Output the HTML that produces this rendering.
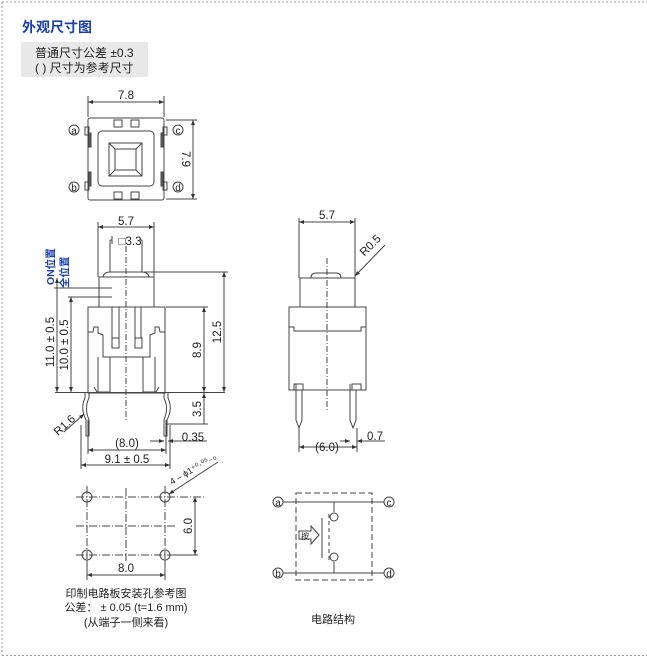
<!DOCTYPE html>
<html><head><meta charset="utf-8"><style>
html,body{margin:0;padding:0;background:#fff;}
body{width:647px;height:661px;overflow:hidden;}
svg{display:block;}
text{font-family:"Liberation Sans","Noto Sans CJK SC",sans-serif;fill:#222;}
</style></head><body>
<svg width="647" height="661" viewBox="0 0 647 661" xmlns="http://www.w3.org/2000/svg">
<defs>
<marker id="ar" viewBox="0 0 10 10" refX="10" refY="5" markerWidth="5" markerHeight="5" orient="auto-start-reverse"><path d="M0,1 L10,5 L0,9z" fill="#333"/></marker>
</defs>
<g stroke="#999" stroke-width="1" stroke-dasharray="2,2" fill="none">
<line x1="2" y1="2" x2="647" y2="2"/>
<line x1="2" y1="2" x2="2" y2="655"/>
<line x1="2" y1="655.5" x2="647" y2="655.5"/>
</g>
<text x="22" y="32" font-size="14" font-weight="bold" style="fill:#1a3fb0">外观尺寸图</text>
<rect x="21" y="42" width="127" height="35" fill="#e8e8e8"/>
<text x="35" y="57" font-size="12">普通尺寸公差 ±0.3</text>
<text x="35" y="72" font-size="12">( ) 尺寸为参考尺寸</text>

<g stroke="#444" stroke-width="1" fill="none">
<rect x="88" y="118" width="76" height="82" rx="2"/>
<rect x="98" y="131" width="56" height="55" rx="4"/>
<rect x="109" y="143" width="33" height="33"/>
<rect x="115" y="149" width="21" height="21"/>
<path d="M109,143 L115,149 M142,143 L136,149 M109,176 L115,170 M142,176 L136,170"/>
<rect x="114" y="120" width="8" height="7"/><rect x="131" y="120" width="8" height="7"/>
<rect x="114" y="192" width="8" height="7"/><rect x="131" y="192" width="8" height="7"/>
<rect x="85" y="127" width="4" height="8"/><rect x="89" y="133" width="2" height="14" fill="#666"/>
<rect x="85" y="182" width="4" height="8"/><rect x="89" y="172" width="2" height="14" fill="#666"/>
<rect x="163" y="127" width="4" height="8"/><rect x="161" y="133" width="2" height="14" fill="#666"/>
<rect x="163" y="182" width="4" height="8"/><rect x="161" y="172" width="2" height="14" fill="#666"/>
<circle cx="74" cy="130" r="5"/><circle cx="74" cy="187" r="5"/>
<circle cx="178" cy="130" r="5"/><circle cx="178" cy="187" r="5"/>
<line x1="88" y1="96" x2="88" y2="117"/><line x1="164" y1="96" x2="164" y2="117"/>
<line x1="88" y1="102" x2="164" y2="102" marker-start="url(#ar)" marker-end="url(#ar)"/>
<line x1="166" y1="120" x2="197" y2="120"/><line x1="166" y1="199" x2="197" y2="199"/>
<line x1="193" y1="120" x2="193" y2="199" marker-start="url(#ar)" marker-end="url(#ar)"/>

<line x1="98" y1="222" x2="98" y2="277"/><line x1="154" y1="222" x2="154" y2="277"/>
<line x1="98" y1="227" x2="154" y2="227" marker-start="url(#ar)" marker-end="url(#ar)"/>
<path d="M110,240 L110,272 M142,240 L142,272 M110,240 L112,240 M140,240 L142,240"/>
<line x1="112" y1="236" x2="112" y2="244"/>
<path d="M103,277 Q104,272 110,272 L142,272 Q148,272 149,277"/>
<rect x="99" y="277" width="55" height="30"/>
<rect x="88" y="307" width="77" height="86"/>
<path d="M88,332 L93,332 L94,327 L98,327 L98,333 L103,335 L103,357 L150,357 L150,335 L155,333 L155,327 L159,327 L160,332 L165,332"/>
<path d="M112,307 L112,338 M119,307 L119,338 M135,307 L135,338 M141,307 L141,338"/>
<rect x="112" y="338" width="7" height="10"/><rect x="135" y="338" width="7" height="10"/>
<path d="M98,357 L98,392 M110,357 L110,392 M143,357 L143,392 M155,357 L155,392"/>
<path d="M94,387 L97,392 L110,392 M143,392 L156,392 L159,387"/>
<path d="M85,392 L85,398 Q80,408 86,420 L86,436 L89,436 L89,420 Q84,408 89,398 L89,393"/>
<path d="M168,392 L168,398 Q173,408 167,420 L167,436 L164,436 L164,420 Q169,408 164,398 L164,393"/>
<line x1="126" y1="246" x2="126" y2="420" stroke-dasharray="6,2,1,2"/>
<line x1="55" y1="392.5" x2="225" y2="392.5"/>
<line x1="144" y1="272" x2="228" y2="272"/>
<line x1="224" y1="272" x2="224" y2="392" marker-start="url(#ar)" marker-end="url(#ar)"/>
<line x1="166" y1="307" x2="208" y2="307"/>
<line x1="204" y1="307" x2="204" y2="392" marker-start="url(#ar)" marker-end="url(#ar)"/>
<line x1="204" y1="393" x2="204" y2="424" marker-start="url(#ar)"/>
<line x1="166" y1="424" x2="208" y2="424"/>
<line x1="57" y1="278" x2="57" y2="392" marker-start="url(#ar)" marker-end="url(#ar)"/>
<line x1="71" y1="297" x2="71" y2="392" marker-start="url(#ar)" marker-end="url(#ar)"/>
<line x1="54" y1="288" x2="112" y2="288"/><line x1="68" y1="297" x2="112" y2="297"/>
<line x1="88" y1="420" x2="88" y2="454"/><line x1="166" y1="420" x2="166" y2="454"/>
<line x1="88" y1="450" x2="166" y2="450" marker-start="url(#ar)" marker-end="url(#ar)"/>
<line x1="81" y1="425" x2="81" y2="469"/><line x1="170" y1="425" x2="170" y2="469"/>
<line x1="81" y1="465" x2="170" y2="465" marker-start="url(#ar)" marker-end="url(#ar)"/>
<line x1="150" y1="441" x2="164" y2="441" marker-end="url(#ar)"/>
<line x1="207" y1="441" x2="168" y2="441" marker-end="url(#ar)"/>
<line x1="64" y1="432" x2="84" y2="414" marker-end="url(#ar)"/>

<line x1="299" y1="218" x2="299" y2="278"/><line x1="355" y1="218" x2="355" y2="278"/>
<line x1="299" y1="222" x2="355" y2="222" marker-start="url(#ar)" marker-end="url(#ar)"/>
<path d="M311,278 Q311,273 316,273 L336,273 Q341,273 341,278"/>
<rect x="300" y="278" width="55" height="29"/>
<rect x="289" y="307" width="77" height="83"/>
<path d="M289,327 L294,327 L294,331 L361,331 L361,327 L366,327"/>
<path d="M289,390 L294,390 L294,384 L303,384 L303,390 M366,390 L361,390 L361,384 L352,384 L352,390"/>
<path d="M296,384 L296,420 L299,428 L302,420 L302,390 M350,384 L350,420 L353,428 L356,420 L356,390"/>
<line x1="327" y1="258" x2="327" y2="410" stroke-dasharray="6,2,1,2"/>
<line x1="385" y1="245" x2="355" y2="276" marker-end="url(#ar)"/>
<line x1="299" y1="428" x2="299" y2="452"/><line x1="357" y1="428" x2="357" y2="452"/>
<line x1="299" y1="447" x2="357" y2="447" marker-start="url(#ar)" marker-end="url(#ar)"/>
<line x1="340" y1="441" x2="350" y2="441" marker-end="url(#ar)"/>
<line x1="385" y1="441" x2="357" y2="441" marker-end="url(#ar)"/>

<g stroke-dasharray="8,2,1,2">
<line x1="76" y1="497" x2="205" y2="497"/><line x1="76" y1="555" x2="178" y2="555"/>
<line x1="76" y1="526" x2="175" y2="526"/>
<line x1="87" y1="486" x2="87" y2="566"/><line x1="165" y1="486" x2="165" y2="566"/>
<line x1="126" y1="488" x2="126" y2="562"/>
</g>
<circle cx="87" cy="497" r="5"/><circle cx="165" cy="497" r="5"/>
<circle cx="87" cy="555" r="5"/><circle cx="165" cy="555" r="5"/>
<line x1="170" y1="555" x2="198" y2="555"/>
<line x1="195" y1="497" x2="195" y2="555" marker-start="url(#ar)" marker-end="url(#ar)"/>
<line x1="87" y1="560" x2="87" y2="580"/><line x1="165" y1="560" x2="165" y2="580"/>
<line x1="87" y1="575" x2="165" y2="575" marker-start="url(#ar)" marker-end="url(#ar)"/>
<line x1="218" y1="462" x2="169" y2="494" marker-end="url(#ar)"/>

<circle cx="278" cy="502" r="5"/><circle cx="389" cy="502" r="5"/>
<circle cx="278" cy="573" r="5"/><circle cx="389" cy="573" r="5"/>
<line x1="283" y1="502" x2="384" y2="502"/><line x1="283" y1="573" x2="384" y2="573"/>
<rect x="296" y="493" width="76" height="87" stroke-dasharray="6,3"/>
<path d="M334,502 L334,512 M334,562 L334,573"/>
<circle cx="334" cy="517" r="4"/><circle cx="334" cy="557" r="4"/>
<line x1="329" y1="514" x2="329" y2="560" stroke-dasharray="4,3"/>
<line x1="322" y1="518" x2="322" y2="558"/>
<path d="M299,531 L311,531 L311,526 L319,535 L311,544 L311,539 L299,539 Z"/>
</g>

<g font-size="11.5" text-anchor="middle">
<text x="126" y="99">7.8</text>
<text x="126" y="225">5.7</text>
<text x="130" y="245">□3.3</text>
<text x="327" y="219">5.7</text>
<text x="127" y="447">(8.0)</text>
<text x="127" y="463">9.1 ± 0.5</text>
<text x="193" y="441">0.35</text>
<text x="375" y="440">0.7</text>
<text x="327" y="451">(6.0)</text>
<text x="126" y="572">8.0</text>
<text x="74" y="134" font-size="10">a</text>
<text x="74" y="191" font-size="10">b</text>
<text x="178" y="134" font-size="10">c</text>
<text x="178" y="191" font-size="10">d</text>
<text x="278" y="506" font-size="10">a</text>
<text x="389" y="506" font-size="10">c</text>
<text x="278" y="577" font-size="10">b</text>
<text x="389" y="577" font-size="10">d</text>
<text transform="translate(182,159) rotate(90)">7.9</text>
<text transform="translate(221,332) rotate(-90)">12.5</text>
<text transform="translate(201,350) rotate(-90)">8.9</text>
<text transform="translate(201,409) rotate(-90)">3.5</text>
<text transform="translate(54,342) rotate(-90)">11.0 ± 0.5</text>
<text transform="translate(68,345) rotate(-90)">10.0 ± 0.5</text>
<text transform="translate(192,526) rotate(-90)">6.0</text>
<text transform="translate(67,428) rotate(-42)">R1.6</text>
<text transform="translate(373,248) rotate(-45)">R0.5</text>
<text transform="translate(172,485) rotate(-31)" font-size="9" text-anchor="start">4 – ϕ1⁺⁰·⁰⁵₋₀</text>
<text x="126" y="597" font-size="11">印制电路板安装孔参考图</text>
<text x="126" y="611" font-size="11">公差： ± 0.05 (t=1.6 mm)</text>
<text x="126" y="626" font-size="11">(从端子一侧来看)</text>
<text x="333" y="623" font-size="11">电路结构</text>
<text x="305" y="539" font-size="8">按</text>
</g>
<g font-size="10.5" font-weight="bold">
<text transform="translate(54,285) rotate(-90)" style="fill:#1a3fb0">ON位置</text>
<text transform="translate(68,288) rotate(-90)" style="fill:#1a3fb0">全位置</text>
</g>
</svg>
</body></html>
